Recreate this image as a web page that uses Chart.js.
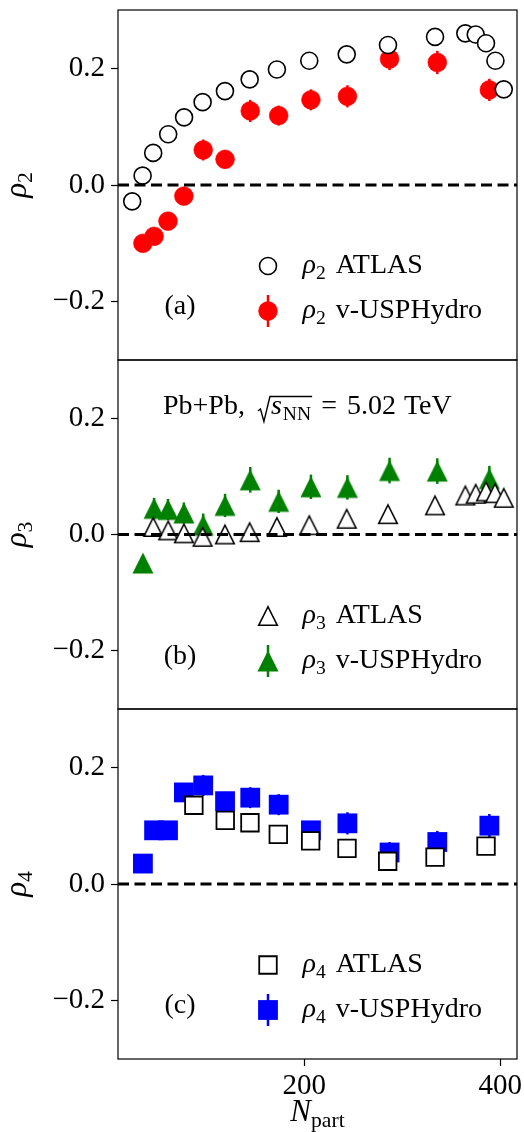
<!DOCTYPE html>
<html>
<head>
<meta charset="utf-8">
<script src="https://cdn.jsdelivr.net/npm/chart.js@4.4.1/dist/chart.umd.min.js"></script>
<style>
  html, body { margin: 0; padding: 0; background: #fff; }
  #wrap { position: relative; width: 524px; height: 1132px; overflow: hidden; }
  .panel { position: absolute; left: 0; width: 524px; }
  #p1 { top: 0; height: 362px; }
  #p2 { top: 358px; height: 353px; }
  #p3 { top: 707px; height: 425px; }
</style>
</head>
<body>
<div id="wrap">
  <div class="panel" id="p1"><canvas id="c1"></canvas></div>
  <div class="panel" id="p2"><canvas id="c2"></canvas></div>
  <div class="panel" id="p3"><canvas id="c3"></canvas></div>
</div>
<script>
// datos
const nPartAtlas = [24.5, 35.1, 45.9, 61.2, 77.4, 96.3, 119.1, 144.3, 172.1, 205.1, 243.3, 285.4, 333.4, 364.3, 374.9, 385.4, 395.0, 403.5];
const rho2Atlas = [-0.028, 0.016, 0.055, 0.087, 0.116, 0.142, 0.161, 0.181, 0.198, 0.213, 0.224, 0.240, 0.254, 0.260, 0.258, 0.243, 0.213, 0.164];

const nPartAtlasRho3 = [45.9, 61.2, 77.2, 96.3, 119.1, 144.3, 172.1, 205.1, 243.3, 285.4, 333.4, 364.3, 374.9, 385.4, 394.6, 403.5];
const rho3Atlas = [0.013, 0.007, 0.002, -0.004, 0.000, 0.004, 0.013, 0.016, 0.027, 0.035, 0.050, 0.067, 0.070, 0.074, 0.071, 0.063];

const nPartAtlasRho4 = [87.4, 119.4, 144.6, 173.5, 206.5, 243.6, 285.1, 333.4, 385.4];
const rho4Atlas = [0.135, 0.109, 0.105, 0.085, 0.074, 0.061, 0.039, 0.046, 0.065];

const nPartModel = [35.4, 46.8, 61.0, 77.2, 96.9, 119.2, 144.9, 173.9, 206.8, 244.0, 287.0, 335.7, 388.8];
const rho2Model = [-0.100, -0.088, -0.062, -0.019, 0.060, 0.044, 0.127, 0.119, 0.146, 0.152, 0.216, 0.210, 0.163];
const rho2ModelErr = [0.010, 0.010, 0.012, 0.014, 0.018, 0.016, 0.019, 0.017, 0.018, 0.019, 0.019, 0.020, 0.019];
const rho3Model = [-0.049, 0.045, 0.043, 0.037, 0.016, 0.050, 0.094, 0.057, 0.082, 0.081, 0.110, 0.109, 0.096];
const rho3ModelErr = [0.012, 0.018, 0.018, 0.018, 0.020, 0.020, 0.022, 0.020, 0.021, 0.021, 0.022, 0.022, 0.022];
const rho4Model = [0.035, 0.092, 0.092, 0.157, 0.169, 0.142, 0.148, 0.136, 0.092, 0.104, 0.054, 0.072, 0.100];
const rho4ModelErr = [0.012, 0.014, 0.014, 0.016, 0.018, 0.016, 0.018, 0.018, 0.014, 0.019, 0.018, 0.019, 0.020];

const xTicks = [200, 400];
const yTicks = [-0.2, 0.0, 0.2];
const xRange = [10, 417];
const yRange = [-0.3, 0.3];
const legendNames = ['ATLAS', 'v-USPHydro'];
const panelTags = ['(a)', '(b)', '(c)'];

const FONT = '"Liberation Serif", "Times New Roman", serif';
Chart.defaults.font.family = FONT;
Chart.defaults.color = '#000';

const toPoints = (xs, ys) => xs.map((x, i) => ({ x: x, y: ys[i] }));

function triangleMarker(size, fill, stroke, lw) {
  const pad = Math.ceil(lw * 2) + 2;
  const c = document.createElement('canvas');
  let s = Math.ceil(size + 2 * pad);
  if (s % 2) s++;
  c.width = c.height = s;
  const g = c.getContext('2d');
  const m = s / 2, h = size / 2;
  g.beginPath();
  g.moveTo(m, m - h);
  g.lineTo(m + h, m + h);
  g.lineTo(m - h, m + h);
  g.closePath();
  g.fillStyle = fill;
  g.fill();
  if (lw > 0) {
    g.lineWidth = lw;
    g.strokeStyle = stroke;
    g.lineJoin = 'miter';
    g.stroke();
  }
  return c;
}

// estilos de marcadores
const sty = {
  atlasCircle: { pointStyle: 'circle', radius: 8.5, borderWidth: 1.6, fill: '#fff', stroke: '#000' },
  modelCircle: { pointStyle: 'circle', radius: 9.4, borderWidth: 0.6, fill: '#ff0000', stroke: '#ff0000' },
  atlasTri: { pointStyle: triangleMarker(18.5, '#fff', '#000', 1.6), radius: 10, borderWidth: 0, fill: '#fff', stroke: '#000' },
  modelTri: { pointStyle: triangleMarker(21, '#008000', '#008000', 0), radius: 10, borderWidth: 0, fill: '#008000', stroke: '#008000' },
  atlasSq: { pointStyle: 'rect', radius: 12.4, borderWidth: 1.8, fill: '#fff', stroke: '#000' },
  modelSq: { pointStyle: 'rect', radius: 14, borderWidth: 0, fill: '#0000ff', stroke: '#0000ff' }
};

function pointDataset(label, pts, s, order, err) {
  return {
    label: label,
    data: pts,
    showLine: false,
    pointStyle: s.pointStyle,
    pointRadius: s.radius,
    pointBorderWidth: s.borderWidth,
    pointBackgroundColor: s.fill,
    pointBorderColor: s.stroke,
    borderColor: s.stroke,
    order: order,
    yErr: err || null
  };
}

function textWidth(ctx, parts, size) {
  let w = 0;
  for (const p of parts) {
    if (p[1] === 'g') { w += p[0]; continue; }
    const fs = p[1] === 's' ? size * 0.7 : size;
    ctx.font = (p[1] === 'i' ? 'italic ' : '') + fs + 'px ' + FONT;
    w += ctx.measureText(p[0]).width;
  }
  return w;
}

function drawRich(ctx, parts, x, y, size, align) {
  let cx = align === 'center' ? x - textWidth(ctx, parts, size) / 2 : x;
  ctx.textAlign = 'left';
  ctx.textBaseline = 'alphabetic';
  for (const p of parts) {
    if (p[1] === 'g') { cx += p[0]; continue; }
    const fs = p[1] === 's' ? size * 0.7 : size;
    ctx.font = (p[1] === 'i' ? 'italic ' : '') + fs + 'px ' + FONT;
    ctx.fillText(p[0], cx, y + (p[1] === 's' ? size * 0.2 : 0));
    cx += ctx.measureText(p[0]).width;
  }
}

function drawHeader(ctx, x, base, fs) {
  ctx.fillStyle = '#000';
  ctx.textAlign = 'left';
  ctx.textBaseline = 'alphabetic';
  let cx = x;
  ctx.font = fs + 'px ' + FONT;
  ctx.fillText('Pb+Pb,', cx, base);
  cx += ctx.measureText('Pb+Pb,').width + 13;
  const rx = cx;
  const sx = rx + 13;
  ctx.font = 'italic ' + fs + 'px ' + FONT;
  ctx.fillText('s', sx, base);
  let ex = sx + ctx.measureText('s').width + 1;
  ctx.font = (fs * 0.7) + 'px ' + FONT;
  ctx.fillText('NN', ex, base + fs * 0.2);
  ex += ctx.measureText('NN').width + 1;
  ctx.beginPath();
  ctx.strokeStyle = '#000';
  ctx.lineWidth = 1.4;
  ctx.lineJoin = 'miter';
  ctx.moveTo(rx, base - 3);
  ctx.lineTo(rx + 2.5, base - 5);
  ctx.lineTo(rx + 6, base + 7.5);
  ctx.lineTo(rx + 12, base - 17.5);
  ctx.lineTo(ex, base - 17.5);
  ctx.stroke();
  cx = ex + 9;
  ctx.font = fs + 'px ' + FONT;
  ctx.fillText('=', cx, base);
  cx += ctx.measureText('=').width + 10;
  ctx.fillText('5.02', cx, base);
  cx += ctx.measureText('5.02').width + 8;
  ctx.fillText('TeV', cx, base);
}

function drawErrBar(ctx, x, y1, y2, color, lw) {
  ctx.beginPath();
  ctx.strokeStyle = color;
  ctx.lineWidth = lw;
  ctx.moveTo(x, y1);
  ctx.lineTo(x, y2);
  ctx.stroke();
}

function drawMarker(ctx, s, x, y) {
  ctx.fillStyle = s.fill;
  ctx.strokeStyle = s.stroke;
  ctx.lineWidth = s.borderWidth;
  Chart.helpers.drawPoint(ctx, { pointStyle: s.pointStyle, radius: s.radius, rotation: 0, borderWidth: s.borderWidth }, x, y);
}

const panelText = {
  id: 'panelText',
  beforeDatasetDraw(chart, args) {
    const ds = chart.data.datasets[args.index];
    if (!ds.yErr) return;
    const yS = chart.scales.y;
    const ctx = chart.ctx;
    ctx.save();
    args.meta.data.forEach((pt, i) => {
      const d = ds.data[i];
      drawErrBar(ctx, pt.x, yS.getPixelForValue(d.y - ds.yErr[i]), yS.getPixelForValue(d.y + ds.yErr[i]), ds.borderColor, 2.5);
    });
    ctx.restore();
  },
  afterDraw(chart, args, o) {
    const ctx = chart.ctx;
    const a = chart.chartArea;
    ctx.save();
    ctx.strokeStyle = '#000';
    ctx.lineWidth = 1.2;
    ctx.strokeRect(a.left, a.top, a.right - a.left, a.bottom - a.top);

    // leyenda dentro del panel
    const mx = a.left + 150, tx = a.left + 184.5;
    const rows = [a.top + 256, a.top + 301];
    o.entries.forEach((e, i) => {
      if (e.err) drawErrBar(ctx, mx, rows[i] - 16, rows[i] + 16, e.style.stroke, 2.5);
      drawMarker(ctx, e.style, mx, rows[i]);
      ctx.fillStyle = '#000';
      drawRich(ctx, [['\u03c1', 'i'], [o.n, 's'], [10, 'g'], [e.name, 'r']], tx, rows[i] + 7, 28);
    });
    ctx.fillStyle = '#000';
    ctx.font = '28px ' + FONT;
    ctx.textAlign = 'center';
    ctx.textBaseline = 'alphabetic';
    ctx.fillText(o.tag, a.left + 62, a.top + 304);

    if (o.header) drawHeader(ctx, a.left + 45, a.top + 54, 28);

    // etiqueta eje y
    ctx.save();
    ctx.translate(26, (a.top + a.bottom) / 2);
    ctx.rotate(-Math.PI / 2);
    ctx.fillStyle = '#000';
    drawRich(ctx, [['\u03c1', 'i'], [o.n, 's']], 0, 0, 31, 'center');
    ctx.restore();

    if (o.xlabel) {
      ctx.fillStyle = '#000';
      drawRich(ctx, [['N', 'i'], ['part', 's']], (a.left + a.right) / 2, a.bottom + 62, 31, 'center');
    }
    ctx.restore();
  }
};

const panels = [
  { canvas: 'c1', n: '2', tag: panelTags[0], header: false, xAxis: false, padTop: 10,
    atlas: toPoints(nPartAtlas, rho2Atlas), atlasStyle: sty.atlasCircle,
    model: toPoints(nPartModel, rho2Model), modelErr: rho2ModelErr, modelStyle: sty.modelCircle },
  { canvas: 'c2', n: '3', tag: panelTags[1], header: true, xAxis: false, padTop: 2,
    atlas: toPoints(nPartAtlasRho3, rho3Atlas), atlasStyle: sty.atlasTri,
    model: toPoints(nPartModel, rho3Model), modelErr: rho3ModelErr, modelStyle: sty.modelTri },
  { canvas: 'c3', n: '4', tag: panelTags[2], header: false, xAxis: true, padTop: 2,
    atlas: toPoints(nPartAtlasRho4, rho4Atlas), atlasStyle: sty.atlasSq,
    model: toPoints(nPartModel, rho4Model), modelErr: rho4ModelErr, modelStyle: sty.modelSq }
];

const tickGrid = { drawOnChartArea: false, drawTicks: true, tickLength: 7, tickColor: '#000', tickWidth: 1.2, color: '#000' };

panels.forEach(p => {
  const zeroLine = {
    label: 'cero',
    data: [{ x: xRange[0], y: 0 }, { x: xRange[1], y: 0 }],
    showLine: true,
    borderColor: '#000',
    borderWidth: 3,
    borderDash: [11, 5.5],
    borderCapStyle: 'butt',
    pointRadius: 0,
    order: 0
  };
  new Chart(document.getElementById(p.canvas), {
    type: 'scatter',
    data: {
      datasets: [
        pointDataset(legendNames[0], p.atlas, p.atlasStyle, 1),
        pointDataset(legendNames[1], p.model, p.modelStyle, 2, p.modelErr),
        zeroLine
      ]
    },
    options: {
      animation: false,
      responsive: true,
      maintainAspectRatio: false,
      events: [],
      layout: { autoPadding: false, padding: { top: p.padTop, bottom: p.xAxis ? 0 : 2, left: 0, right: 7 } },
      plugins: {
        legend: { display: false },
        tooltip: { enabled: false },
        panelText: {
          n: p.n, tag: p.tag, header: p.header, xlabel: p.xAxis,
          entries: [
            { style: p.atlasStyle, name: legendNames[0], err: false },
            { style: p.modelStyle, name: legendNames[1], err: true }
          ]
        }
      },
      scales: {
        x: {
          type: 'linear',
          min: xRange[0],
          max: xRange[1],
          display: p.xAxis,
          afterBuildTicks: s => { s.ticks = xTicks.map(v => ({ value: v })); },
          afterFit: s => {
            if (p.xAxis) s.height = 73; else s.height = 0;
            s.paddingLeft = 0;
            s.paddingRight = 0;
          },
          grid: tickGrid,
          border: { display: false },
          ticks: { color: '#000', font: { size: 29 }, padding: 3, maxRotation: 0, callback: v => String(v) }
        },
        y: {
          type: 'linear',
          min: yRange[0],
          max: yRange[1],
          afterBuildTicks: s => { s.ticks = yTicks.map(v => ({ value: v })); },
          afterFit: s => {
            s.width = 118;
            s.paddingTop = 0;
            s.paddingBottom = 0;
          },
          grid: tickGrid,
          border: { display: false },
          ticks: {
            color: '#000',
            font: { size: 29 },
            padding: 6,
            callback: v => (v < 0 ? '\u2212' : '') + Math.abs(v).toFixed(1)
          }
        }
      }
    },
    plugins: [panelText]
  });
});
</script>
</body>
</html>
